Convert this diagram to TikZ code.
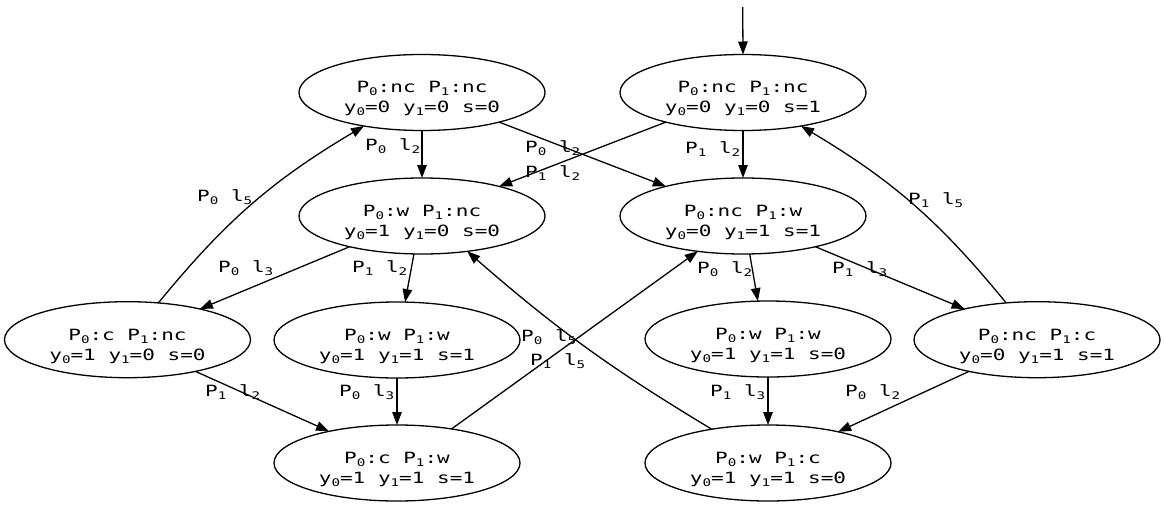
\documentclass[tikz,border=0pt]{standalone}
\usepackage{fontspec}
\setmainfont{DejaVu Sans Mono}[FakeStretch=1.355]
\usetikzlibrary{shapes.geometric,arrows.meta}
\newcommand\dn[1]{\raisebox{-3pt}{\fontsize{10.5}{10.5}\selectfont #1}}
\newcommand\tp{\rule{0pt}{24pt}}
\begin{document}
\begin{tikzpicture}[x=1pt,y=1pt,
  st/.style={ellipse,draw,line width=1.3pt,minimum width=246pt,minimum height=76pt,inner sep=0pt,outer sep=0pt,align=center,font=\fontsize{15.5}{20}\selectfont},
  lb/.style={anchor=base west,inner sep=0pt,font=\fontsize{15.5}{20}\selectfont},
  arr/.style={line width=1.3pt,-{Triangle[length=13pt,width=9.5pt]}}]
\useasboundingbox (0,0) rectangle (1165,-506);
\node[st] (A) at (422,-92.5) {\tp P\dn{0}:nc P\dn{1}:nc\\y\dn{0}=0 y\dn{1}=0 s=0};
\node[st] (B) at (743,-92.5) {\tp P\dn{0}:nc P\dn{1}:nc\\y\dn{0}=0 y\dn{1}=0 s=1};
\node[st] (C) at (422,-216) {\tp P\dn{0}:w P\dn{1}:nc\\y\dn{0}=1 y\dn{1}=0 s=0};
\node[st] (D) at (743,-216) {\tp P\dn{0}:nc P\dn{1}:w\\y\dn{0}=0 y\dn{1}=1 s=1};
\node[st] (E) at (127.5,-339.7) {\tp P\dn{0}:c P\dn{1}:nc\\y\dn{0}=1 y\dn{1}=0 s=0};
\node[st] (F) at (397,-340) {\tp P\dn{0}:w P\dn{1}:w\\y\dn{0}=1 y\dn{1}=1 s=1};
\node[st] (G) at (768,-339) {\tp P\dn{0}:w P\dn{1}:w\\y\dn{0}=1 y\dn{1}=1 s=0};
\node[st] (H) at (1037,-339.7) {\tp P\dn{0}:nc P\dn{1}:c\\y\dn{0}=0 y\dn{1}=1 s=1};
\node[st] (I) at (397,-463) {\tp P\dn{0}:c P\dn{1}:w\\y\dn{0}=1 y\dn{1}=1 s=1};
\node[st] (J) at (768,-463) {\tp P\dn{0}:w P\dn{1}:c\\y\dn{0}=1 y\dn{1}=1 s=0};
\coordinate (s0) at (742.7,-7);
\draw[arr] (s0) -- (B.north);
\draw[arr] (A.south) -- (C.north);
\draw[arr] (A.-21) -- (D.159);
\draw[arr] (B.-159) -- (C.21);
\draw[arr] (B.south) -- (D.north);
\draw[arr] (E.50) to[bend left=10] (A.-150);
\draw[arr] (C.-157) -- (E.23);
\draw[arr] (C.-102) -- (F.78);
\draw[arr] (D.-80) -- (G.105);
\draw[arr] (D.-23) -- (H.157);
\draw[arr] (H.130) to[bend right=10] (B.-30);
\draw[arr] (E.-25) -- (I.155);
\draw[arr] (F.south) -- (I.north);
\draw[arr] (G.south) -- (J.north);
\draw[arr] (H.-155) -- (J.24);
\draw[arr] (I.32) -- (D.-142);
\draw[arr] (J.149) to[bend left=5] (C.-38);
\node[lb] (l1) at (365,-150) {P\dn{0} l\dn{2}};
\node[lb] (l2) at (525,-152) {P\dn{0} l\dn{2}};
\node[lb] (l3) at (525,-177) {P\dn{1} l\dn{2}};
\node[lb] (l4) at (685,-153) {P\dn{1} l\dn{2}};
\node[lb] (l5) at (197,-201.7) {P\dn{0} l\dn{5}};
\node[lb] (l6) at (218,-272) {P\dn{0} l\dn{3}};
\node[lb] (l7) at (352,-272) {P\dn{1} l\dn{2}};
\node[lb] (l8) at (697,-273) {P\dn{0} l\dn{2}};
\node[lb] (l9) at (832,-273) {P\dn{1} l\dn{3}};
\node[lb] (l10) at (908,-204) {P\dn{1} l\dn{5}};
\node[lb] (l11) at (205,-396.7) {P\dn{1} l\dn{2}};
\node[lb] (l12) at (339,-396) {P\dn{0} l\dn{3}};
\node[lb] (l13) at (710,-396) {P\dn{1} l\dn{3}};
\node[lb] (l14) at (845,-396) {P\dn{0} l\dn{2}};
\node[lb] (l15) at (530,-365) {P\dn{1} l\dn{5}};
\node[lb] (l16) at (521,-341.7) {P\dn{0} l\dn{5}};
\end{tikzpicture}
\end{document}
